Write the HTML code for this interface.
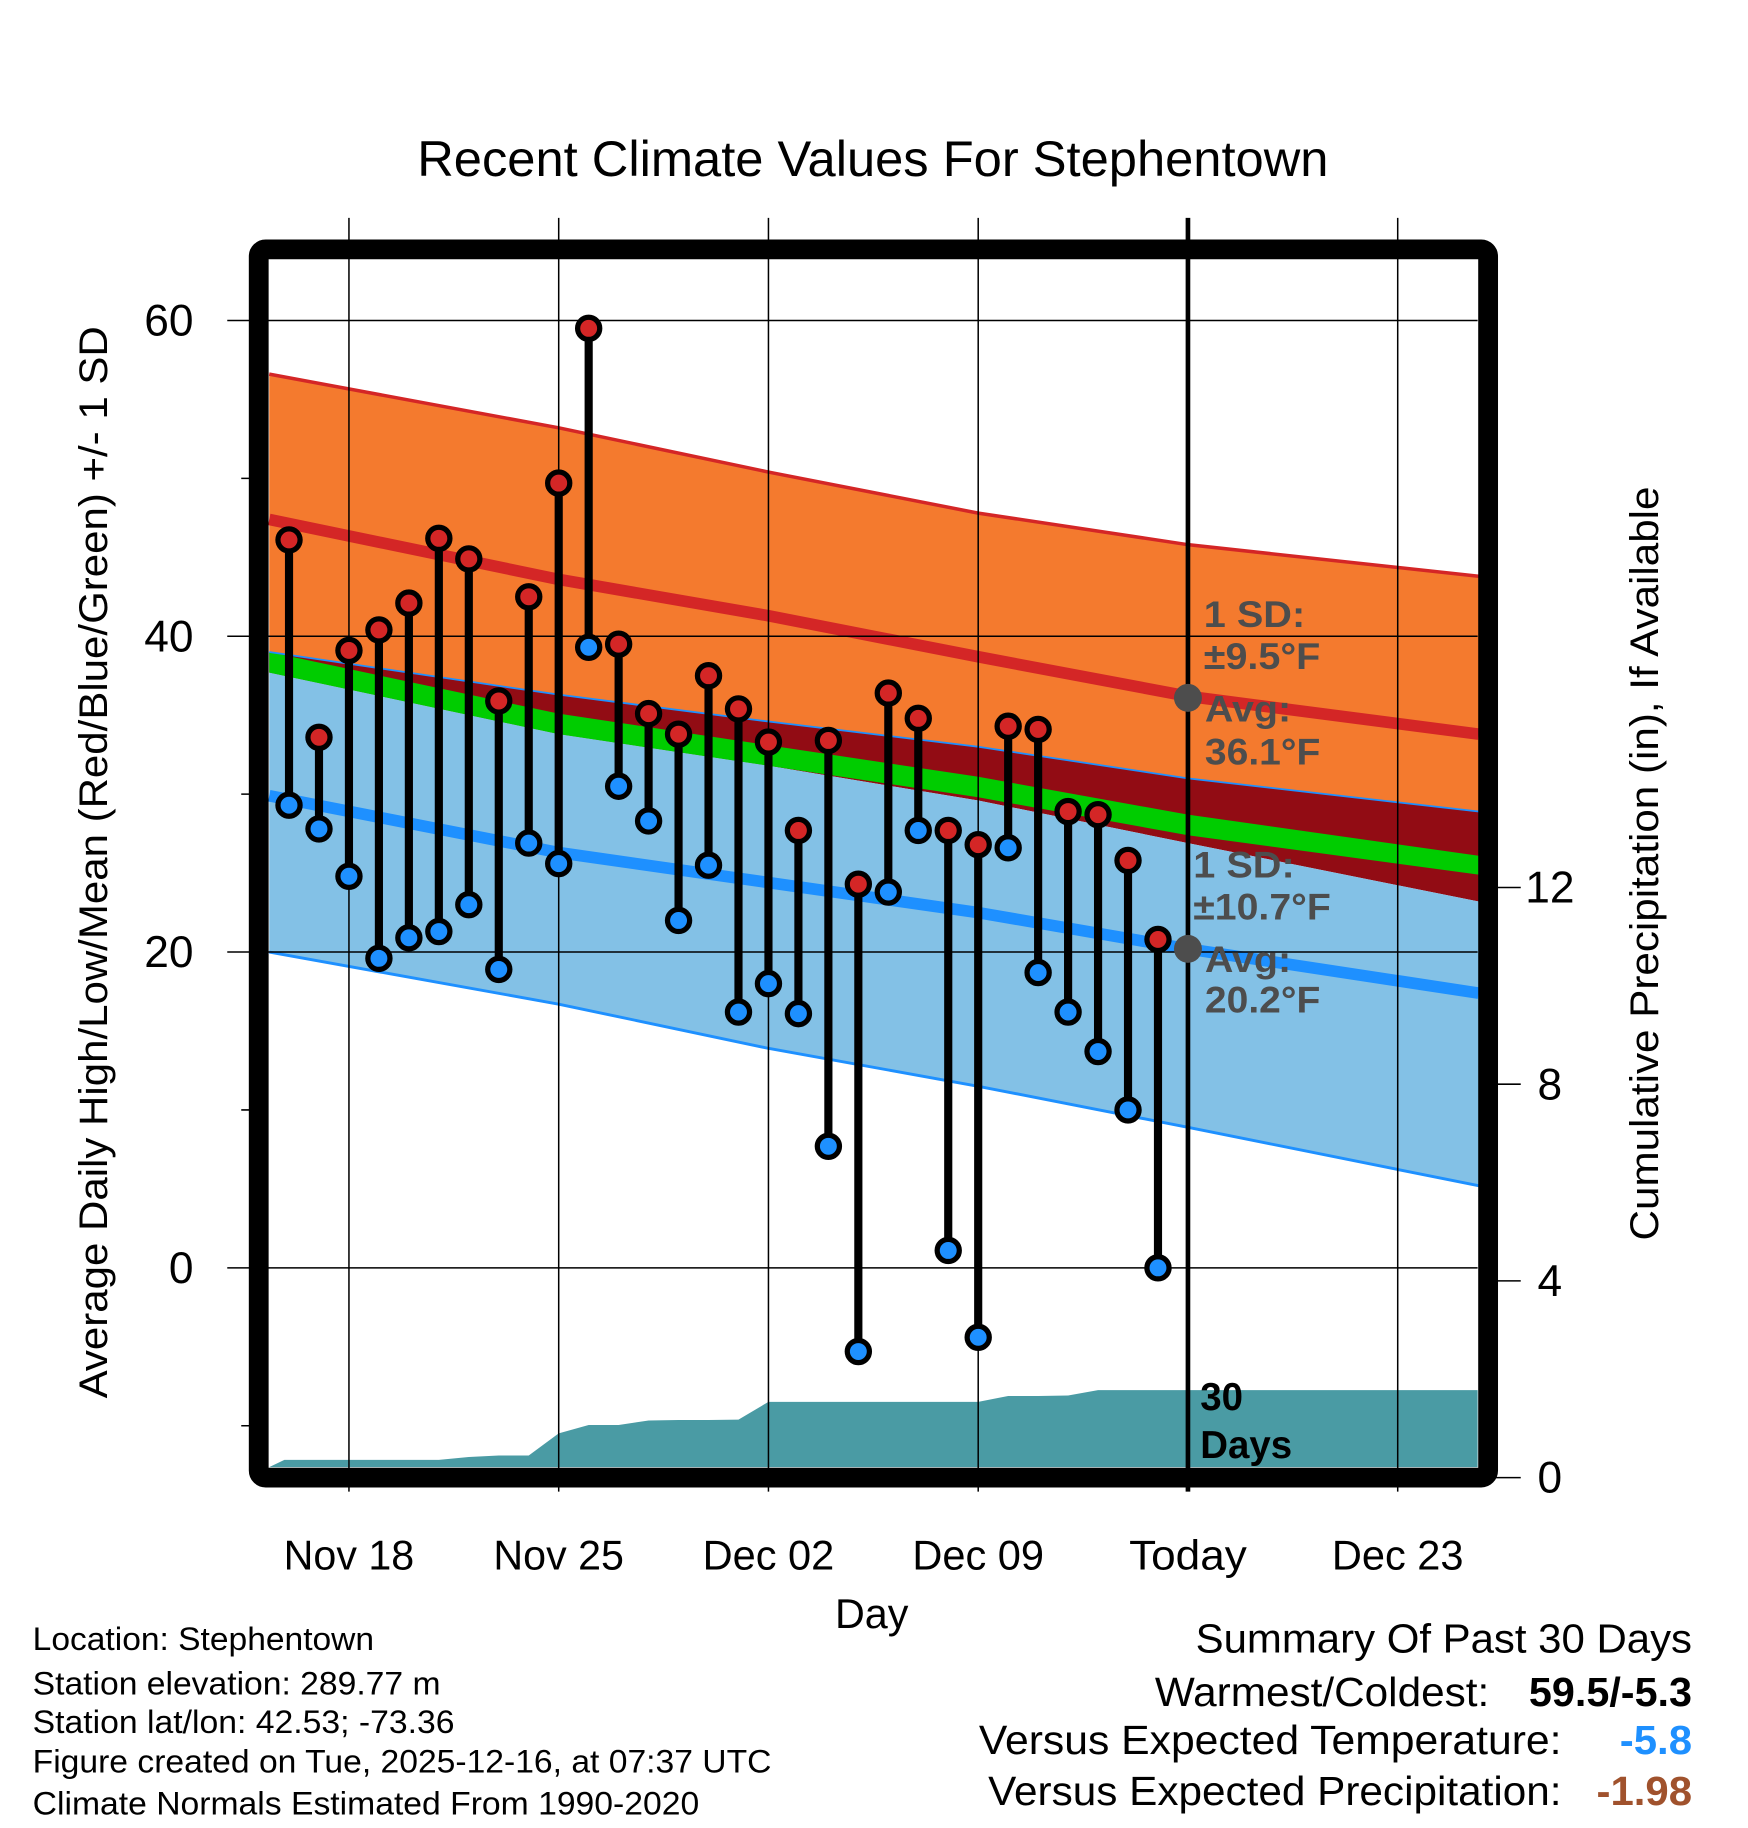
<!DOCTYPE html>
<html><head><meta charset="utf-8"><style>
html,body{margin:0;padding:0;background:#fff;}
svg{display:block;font-family:"Liberation Sans",Arial,sans-serif;}
</style></head><body>
<svg id="chart" width="1748" height="1828" viewBox="0 0 1500 1568.7" xmlns="http://www.w3.org/2000/svg">
<text x="749" y="151" font-size="43" text-anchor="middle" textLength="782" lengthAdjust="spacingAndGlyphs">Recent Climate Values For Stephentown</text>
<g id="plot"></g>
</svg>
<script>
// ---- data ----
const dayLabels = ["Nov 18","Nov 25","Dec 02","Dec 09","Today","Dec 23"];
const labelDays = [2,9,16,23,30,37]; // day index from Nov 16
const highs = [46.1,33.6,39.1,40.4,42.1,46.2,44.9,35.9,42.5,49.7,59.5,39.5,35.1,33.8,37.5,35.4,33.3,27.7,33.4,24.3,36.4,34.8,27.7,26.8,34.3,34.1,28.9,28.7,25.8,20.8];
const lows  = [29.3,27.8,24.8,19.6,20.9,21.3,23.0,18.9,26.9,25.6,39.3,30.5,28.3,22.0,25.5,16.2,18.0,16.1,7.7,-5.3,23.8,27.7,1.1,-4.4,26.6,18.7,16.2,13.7,10.0,0.0];
const precipCum = [0.36,0.36,0.36,0.36,0.36,0.36,0.42,0.45,0.45,0.9,1.07,1.07,1.16,1.17,1.17,1.18,1.54,1.54,1.54,1.54,1.54,1.54,1.54,1.54,1.66,1.66,1.67,1.78,1.78,1.78];
// normals sampled at these day positions
const normDays = [-0.66,9,16,23,30,39.7];
const normHighUpper = [56.6,53.2,50.4,47.8,45.8,43.8];
const normHigh      = [47.4,43.6,41.3,38.7,36.2,33.8];
const normHighLower = [39.0,36.3,34.6,33.0,31.0,28.9];
const normMeanTop   = [39.0,35.1,33.1,31.1,28.7,26.1];
const normMeanBot   = [37.7,33.8,31.8,29.8,27.4,24.9];
const normLowUpper  = [37.7,33.8,31.8,29.6,26.9,23.2];
const normLow       = [29.9,26.3,24.4,22.5,20.2,17.4];
const normLowLower  = [20.0,16.7,13.9,11.5,8.9,5.2];
const yTicks = [0,20,40,60];
const yMinor = [-10,10,30,50];
const pTicks = [0,4,8,12];

// ---- axes ----
const X = d => 248 + d*25.714;
const Y = v => 1088 - v*13.55;
const P = p => 1268 - p*42.2;
const L = 231, R = 1268, T = 223, B = 1259;
const NS = "http://www.w3.org/2000/svg";
const g = document.getElementById('plot');
function el(tag, attrs, parent){const e=document.createElementNS(NS,tag);for(const k in attrs)e.setAttribute(k,attrs[k]);(parent||g).appendChild(e);return e;}
function band(top,bot){let pts=[];normDays.forEach((d,i)=>pts.push(X(d)+','+Y(top[i])));for(let i=normDays.length-1;i>=0;i--)pts.push(X(normDays[i])+','+Y(bot[i]));return pts.join(' ');}
function line(arr){return normDays.map((d,i)=>X(d)+','+Y(arr[i])).join(' ');}

let e;
e=el('polygon',{points:band(normHighUpper,normHighLower),fill:'#f47a2e'});


e=el('polygon',{points:band(normHighLower,normLowUpper),fill:'#920c14'});


e=el('polygon',{points:band(normLowUpper,normLowLower),fill:'#83c1e6'});


e=el('polygon',{points:band(normMeanTop,normMeanBot),fill:'#00cc00'});


e=el('polyline',{points:line(normHighUpper),fill:'none',stroke:'#d42626','stroke-width':3});


e=el('polyline',{points:line(normHighLower),fill:'none',stroke:'#1e90ff','stroke-width':1.5});


e=el('polyline',{points:line(normLowLower),fill:'none',stroke:'#1e90ff','stroke-width':2.5});


e=el('polyline',{points:line(normHigh),fill:'none',stroke:'#d42626','stroke-width':10});


e=el('polyline',{points:line(normLow),fill:'none',stroke:'#1e90ff','stroke-width':10});



// precip area
let pp=[L+','+B, (X(0)-4)+','+P(precipCum[0])];
precipCum.forEach((p,i)=>pp.push(X(i)+','+P(p)));
pp.push(R+','+P(precipCum[precipCum.length-1]), R+','+B);
e=el('polygon',{points:pp.join(' '),fill:'#4a9ba4'});



// grid
const xLabelW=[112,112,113,113,101,113];
labelDays.forEach((d,i)=>{
  e=el('line',{x1:X(d),x2:X(d),y1:187,y2:1280,stroke:'#000','stroke-width':i==4?4:1.3});
  
  
  e=el('text',{x:X(d),y:1347,'font-size':36,'text-anchor':'middle',textLength:xLabelW[i],lengthAdjust:'spacingAndGlyphs'});
  e.textContent=dayLabels[i];
  
  
});
yTicks.forEach(v=>{
  e=el('line',{x1:195,x2:R,y1:Y(v),y2:Y(v),stroke:'#000','stroke-width':1.3});
  
  
  e=el('text',{x:166,y:Y(v)+13,'font-size':38,'text-anchor':'end'});
  e.textContent=v;
  
  
});
yMinor.forEach(v=>{
  e=el('line',{x1:207,x2:222,y1:Y(v),y2:Y(v),stroke:'#000','stroke-width':1.3});
  
  
});
pTicks.forEach(p=>{
  e=el('line',{x1:1277,x2:1305,y1:P(p),y2:P(p),stroke:'#000','stroke-width':1.3});
  
  
  e=el('text',{x:1330,y:P(p)+13,'font-size':38,'text-anchor':'middle'});
  e.textContent=p;
  
  
});

// high/low stems
highs.forEach((h,i)=>{
  e=el('line',{x1:X(i),x2:X(i),y1:Y(h),y2:Y(lows[i]),stroke:'#000','stroke-width':7});
  
  
});
highs.forEach((h,i)=>{
  e=el('circle',{cx:X(i),cy:Y(lows[i]),r:9.5,fill:'#1e90ff',stroke:'#000','stroke-width':4.5});
  
  
  e=el('circle',{cx:X(i),cy:Y(h),r:9.5,fill:'#d42626',stroke:'#000','stroke-width':4.5});
  
  
});

// annotations
e=el('circle',{cx:X(30),cy:Y(36.1),r:12,fill:'#4d4d4d'});


e=el('circle',{cx:X(30),cy:Y(20.2),r:12,fill:'#4d4d4d'});


const ann=[["1 SD:",1033,538,87],["±9.5°F",1033,574,100],["Avg:",1034,619,74],["36.1°F",1034,656,99],["1 SD:",1024,753,87],["±10.7°F",1024,789,118],["Avg:",1034,834,74],["20.2°F",1034,869,99]];
ann.forEach(a=>{
  e=el('text',{x:a[1],y:a[2],'font-size':32,'font-weight':'bold',fill:'#4d4d4d',textLength:a[3],lengthAdjust:'spacingAndGlyphs'});
  e.textContent=a[0];
  
  
});
[["30",1210],["Days",1251]].forEach(a=>{
  e=el('text',{x:1030,y:a[1],'font-size':33,'font-weight':'bold'});
  e.textContent=a[0];
  
  
});

// frame
e=el('rect',{x:222,y:214,width:1055,height:1054,fill:'none',stroke:'#000','stroke-width':17,rx:6});



// axis titles
e=el('text',{x:0,y:0,'font-size':34,'text-anchor':'middle',transform:'translate(92,740) rotate(-90)',textLength:920,lengthAdjust:'spacingAndGlyphs'});
e.textContent='Average Daily High/Low/Mean (Red/Blue/Green) +/- 1 SD';


e=el('text',{x:0,y:0,'font-size':34,'text-anchor':'middle',transform:'translate(1423,741) rotate(-90)',textLength:647,lengthAdjust:'spacingAndGlyphs'});
e.textContent='Cumulative Precipitation (in), If Available';


e=el('text',{x:748,y:1397,'font-size':36,'text-anchor':'middle',textLength:63,lengthAdjust:'spacingAndGlyphs'});
e.textContent='Day';



// footer
const foot=[["Location: Stephentown",1416,293],["Station elevation: 289.77 m",1454,350],["Station lat/lon: 42.53; -73.36",1487,362],["Figure created on Tue, 2025-12-16, at 07:37 UTC",1521,634],["Climate Normals Estimated From 1990-2020",1557,572]];
foot.forEach(f=>{
  e=el('text',{x:28,y:f[1],'font-size':28,textLength:f[2],lengthAdjust:'spacingAndGlyphs'});
  e.textContent=f[0];
  
  
});
const summ=[["Summary Of Past 30 Days",1452,1418,426,null,null,0],["Warmest/Coldest:",1278,1464,287,"59.5/-5.3","#000",140],["Versus Expected Temperature:",1340,1505,500,"-5.8","#1e90ff",62],["Versus Expected Precipitation:",1340,1549,492,"-1.98","#a0522d",82]];
summ.forEach(s=>{
  e=el('text',{x:s[1],y:s[2],'font-size':35,'text-anchor':'end',textLength:s[3],lengthAdjust:'spacingAndGlyphs'});
  e.textContent=s[0];
  
  
  if(s[4]){
    e=el('text',{x:1452,y:s[2],'font-size':35,'font-weight':'bold','text-anchor':'end',fill:s[5],textLength:s[6],lengthAdjust:'spacingAndGlyphs'});
    e.textContent=s[4];
    
    
  }
});
</script>
</body></html>
